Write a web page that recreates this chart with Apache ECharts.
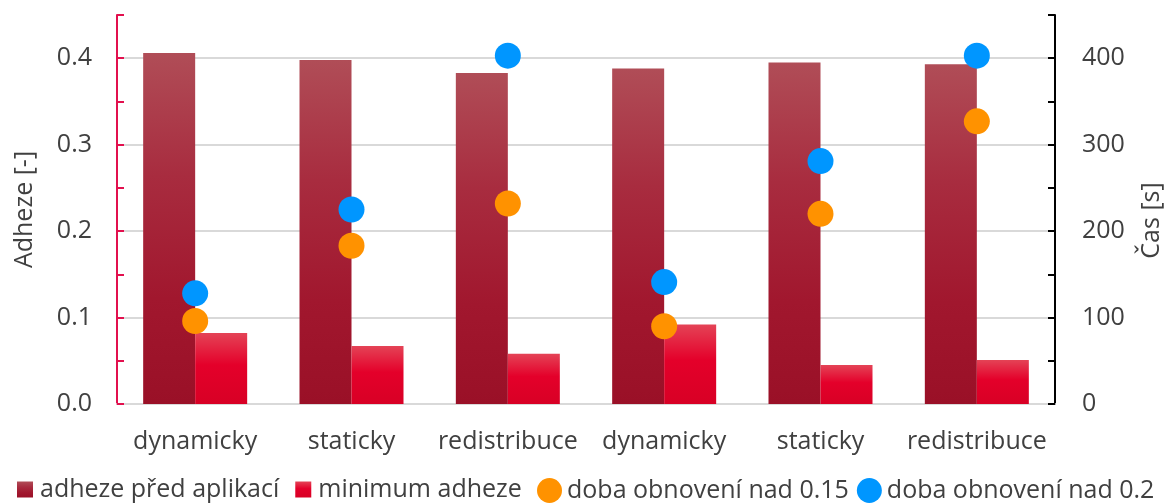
<!DOCTYPE html>
<html>
<head>
<meta charset="utf-8">
<title>Adheze</title>
<script src="https://cdn.jsdelivr.net/npm/echarts@6/dist/echarts.min.js"></script>
<style>
  html, body { margin: 0; padding: 0; background: #fff; }
  #chart { width: 1165px; height: 504px; }
</style>
</head>
<body>
<div id="chart"></div>
<script>
// kategorie na ose x
const categories = ['dynamicky', 'staticky', 'redistribuce', 'dynamicky', 'staticky', 'redistribuce']
// adheze [-]
const adhezePred = [0.406, 0.398, 0.383, 0.388, 0.395, 0.393]
const minimumAdheze = [0.082, 0.067, 0.058, 0.092, 0.045, 0.051]
// cas [s]
const doba015 = [96, 183, 232, 90, 220, 327]
const doba02 = [128, 225, 403, 141, 281, 403]

const textColor = '#404040'
const fontFamily = 'Open Sans'

let myChart = echarts.init(document.getElementById('chart'))

let grad1 = new echarts.graphic.LinearGradient(0, 0, 0, 1, [
  { offset: 0, color: '#b04d57' },
  { offset: 0.35, color: '#a82c3f' },
  { offset: 0.7, color: '#a1172e' },
  { offset: 1, color: '#9a1027' }
])
let grad2 = new echarts.graphic.LinearGradient(0, 0, 0, 1, [
  { offset: 0, color: '#e44356' },
  { offset: 0.45, color: '#e4002a' },
  { offset: 1, color: '#d80025' }
])

let option = {
  animation: false,
  textStyle: { fontFamily: fontFamily, color: textColor },
  grid: {
    left: 117,
    right: 110,
    top: 15,
    bottom: 100,
    outerBoundsMode: 'none'
  },
  legend: [
    {
      bottom: -3,
      left: 12,
      itemWidth: 16,
      itemHeight: 16,
      itemGap: 16,
      textStyle: { fontSize: 25, color: textColor, fontFamily: fontFamily, padding: [0, 0, 0, 2] },
      data: [
        { name: 'adheze před aplikací', icon: 'rect' },
        { name: 'minimum adheze', icon: 'rect' }
      ]
    },
    {
      bottom: -4,
      left: 532,
      itemWidth: 25,
      itemHeight: 25,
      itemGap: 8,
      textStyle: { fontSize: 25, color: textColor, fontFamily: fontFamily },
      data: [
        { name: 'doba obnovení nad 0.15', icon: 'circle' },
        { name: 'doba obnovení nad 0.2', icon: 'circle' }
      ]
    }
  ],
  xAxis: {
    type: 'category',
    data: categories,
    axisLine: { show: true, lineStyle: { color: '#d9d9d9', width: 2 } },
    axisTick: { show: false },
    axisLabel: { fontSize: 25, color: textColor, margin: 25, interval: 0 }
  },
  yAxis: [
    {
      type: 'value',
      min: 0,
      max: 0.45,
      interval: 0.05,
      name: 'Adheze [-]',
      nameLocation: 'middle',
      nameGap: 80,
      nameTextStyle: { fontSize: 25, color: textColor },
      axisLine: { show: true, lineStyle: { color: '#e2104e', width: 2 } },
      axisTick: { show: true, inside: true, length: 7, lineStyle: { color: '#e2104e', width: 2 } },
      axisLabel: {
        fontSize: 25,
        color: textColor,
        margin: 25,
        formatter: function (v) {
          let k = Math.round(v * 100)
          return k % 10 === 0 ? (k / 100).toFixed(1) : ''
        }
      },
      splitLine: { show: false }
    },
    {
      type: 'value',
      min: 0,
      max: 450,
      interval: 50,
      name: 'Čas [s]',
      nameLocation: 'middle',
      nameGap: 84,
      nameRotate: 90,
      nameTextStyle: { fontSize: 25, color: textColor, padding: [0, 22, 0, 0] },
      axisLine: { show: true, lineStyle: { color: '#000', width: 2 } },
      axisTick: { show: true, inside: true, length: 7, lineStyle: { color: '#000', width: 2 } },
      axisLabel: {
        fontSize: 25,
        color: textColor,
        margin: 27,
        formatter: function (v) {
          return v % 100 === 0 ? String(v) : ''
        }
      },
      splitLine: { show: false }
    },
    {
      // jen mrizka po 0.1
      type: 'value',
      min: 0,
      max: 0.45,
      interval: 0.1,
      show: true,
      position: 'left',
      axisLine: { show: false },
      axisTick: { show: false },
      axisLabel: { show: false },
      splitLine: { show: true, showMaxLine: false, lineStyle: { color: '#d9d9d9', width: 2 } }
    }
  ],
  series: [
    {
      name: 'adheze před aplikací',
      type: 'bar',
      yAxisIndex: 0,
      barWidth: 52,
      barGap: '0%',
      itemStyle: { color: grad1 },
      data: adhezePred
    },
    {
      name: 'minimum adheze',
      type: 'bar',
      yAxisIndex: 0,
      barWidth: 52,
      barGap: '0%',
      itemStyle: { color: grad2 },
      data: minimumAdheze
    },
    {
      name: 'doba obnovení nad 0.15',
      type: 'scatter',
      yAxisIndex: 1,
      symbolSize: 26,
      z: 3,
      itemStyle: { color: '#ff9200', opacity: 1 },
      data: doba015
    },
    {
      name: 'doba obnovení nad 0.2',
      type: 'scatter',
      yAxisIndex: 1,
      symbolSize: 26,
      z: 3,
      itemStyle: { color: '#0096ff', opacity: 1 },
      data: doba02
    }
  ]
}
myChart.setOption(option)
</script>
</body>
</html>
